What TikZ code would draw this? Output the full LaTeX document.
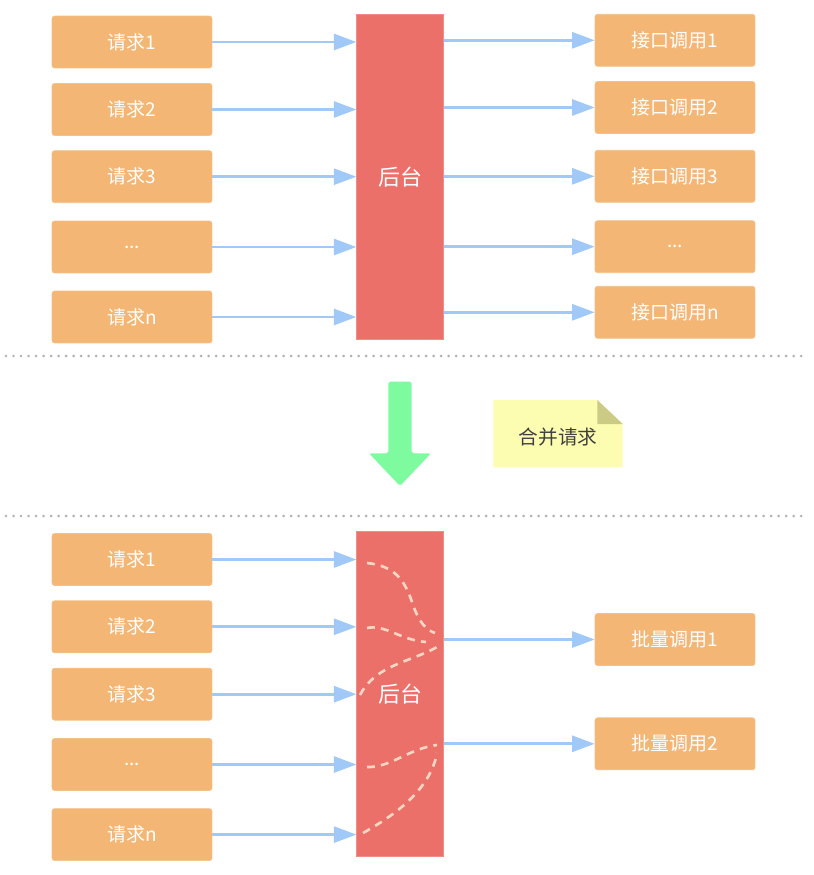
\documentclass[tikz,border=0pt]{standalone}
\usepackage{fontspec}
\setmainfont{Noto Sans CJK SC}
\usetikzlibrary{arrows.meta,calc}
\definecolor{CO}{HTML}{F3B674}
\definecolor{CB}{HTML}{EC706A}
\definecolor{CL}{HTML}{A0C9F7}
\definecolor{CG}{HTML}{7FFB9F}
\definecolor{CN}{HTML}{FDFDB1}
\definecolor{CF}{HTML}{CBCB86}
\definecolor{CD}{HTML}{F9D6C2}
\tikzset{
	box/.style  = {fill=CO, draw=CO!85!white, rounded corners=1.5pt, inner sep=0pt,
	               minimum width=3.2cm, minimum height=1.04cm, text=white,
	               font=\fontsize{10.8pt}{12pt}\selectfont},
	back/.style = {fill=CB, draw=CB!80!white, inner sep=0pt, minimum width=1.73cm,
	               minimum height=6.5cm, text=white, font=\fontsize{12.5pt}{14pt}\selectfont},
	ar/.style   = {-{Triangle[length=0.45cm, width=0.32cm]}, draw=CL, line width=1.5pt},
	mix/.style  = {draw=CD, line width=1.5pt, dash pattern=on 4.5pt off 3.5pt},
	sep/.style  = {draw=gray!60, line width=1.7pt, line cap=round, dash pattern=on 0pt off 4.27pt},
}

\begin{document}
\begin{tikzpicture}[x=0.02cm, y=-0.02cm]
	\useasboundingbox[fill=white] (0,0) rectangle (814,875);
	
	%%═══════════════════════════════════════════════════════════════════
	%% BEFORE: one call per request   (y = 14 … 340)
	%%═══════════════════════════════════════════════════════════════════
	
	%% requests ───────────────────────────────────────────────────────
	\node[box] (rq1) at (132, 42.0) {请求1};
	\node[box] (rq2) at (132,109.5) {请求2};
	\node[box] (rq3) at (132,176.7) {请求3};
	\node[box] (rq4) at (132,247.0) {...};
	\node[box] (rq5) at (132,317.0) {请求n};
	
	%% backend ────────────────────────────────────────────────────────
	\node[back, minimum height=6.51cm] (bk) at (400,176.7) {后台};
	
	%% interface calls ────────────────────────────────────────────────
	\node[box] (api1) at (675, 40.3) {接口调用1};
	\node[box] (api2) at (675,107.5) {接口调用2};
	\node[box] (api3) at (675,176.3) {接口调用3};
	\node[box] (api4) at (675,246.7) {...};
	\node[box] (api5) at (675,312.3) {接口调用n};
	
	\draw[ar] (rq1.east) -- (rq1 -| bk.west);
	\draw[ar] (rq2.east) -- (rq2 -| bk.west);
	\draw[ar] (rq3.east) -- (rq3 -| bk.west);
	\draw[ar] (rq4.east) -- (rq4 -| bk.west);
	\draw[ar] (rq5.east) -- (rq5 -| bk.west);
	
	\draw[ar] (api1 -| bk.east) -- (api1.west);
	\draw[ar] (api2 -| bk.east) -- (api2.west);
	\draw[ar] (api3 -| bk.east) -- (api3.west);
	\draw[ar] (api4 -| bk.east) -- (api4.west);
	\draw[ar] (api5 -| bk.east) -- (api5.west);
	
	%%═══════════════════════════════════════════════════════════════════
	%% SEPARATORS + MERGE HINT
	%%═══════════════════════════════════════════════════════════════════
	\draw[sep] (6,356) -- (804,356);
	\draw[sep] (6,516) -- (804,516);
	
	%% big down arrow
	\fill[CG, rounded corners=1pt]
	(388.3,381.7) -- (411.7,381.7) -- (411.7,453.3) -- (431,453.3)
	-- (400,486) -- (369,453.3) -- (388.3,453.3) -- cycle;
	
	%% folded note
	\fill[CN] (493.3,400) -- (597.3,400) -- (622.7,424) -- (622.7,467.3) -- (493.3,467.3) -- cycle;
	\fill[CF] (597.3,400) -- (622.7,424) -- (597.3,424) -- cycle;
	\node[text=black!75, font=\fontsize{11.2pt}{13pt}\selectfont] (note) at (558,437) {合并请求};
	
	%%═══════════════════════════════════════════════════════════════════
	%% AFTER: requests merged into batch calls   (y = 532 … 856)
	%%═══════════════════════════════════════════════════════════════════
	\node[box] (brq1) at (132,559.5) {请求1};
	\node[box] (brq2) at (132,626.8) {请求2};
	\node[box] (brq3) at (132,694.2) {请求3};
	\node[box] (brq4) at (132,764.5) {...};
	\node[box] (brq5) at (132,834.6) {请求n};
	
	\node[back, minimum height=6.49cm] (bbk) at (400,693.8) {后台};
	
	\node[box] (bat1) at (675,639.5) {批量调用1};
	\node[box] (bat2) at (675,743.8) {批量调用2};
	
	\draw[ar] (brq1.east) -- (brq1 -| bbk.west);
	\draw[ar] (brq2.east) -- (brq2 -| bbk.west);
	\draw[ar] (brq3.east) -- (brq3 -| bbk.west);
	\draw[ar] (brq4.east) -- (brq4 -| bbk.west);
	\draw[ar] (brq5.east) -- (brq5 -| bbk.west);
	
	\draw[ar] (bat1 -| bbk.east) -- (bat1.west);
	\draw[ar] (bat2 -| bbk.east) -- (bat2.west);
	
	%% merging paths inside backend
	\draw[mix] (367,563) .. controls (395,566) and (405,580) .. (413,605) .. controls (419,622) and (426,630) .. (435,633);
	\draw[mix] (367,628) .. controls (385,624) and (400,640) .. (426,642);
	\draw[mix] (360,695) .. controls (372,672) and (395,665) .. (415,657) .. controls (428,652) and (436,648) .. (440,645);
	\draw[mix] (367,767) .. controls (390,768) and (410,748) .. (437,745);
	\draw[mix] (363,833) .. controls (395,815) and (430,790) .. (437,753);
	
\end{tikzpicture}
\end{document}
